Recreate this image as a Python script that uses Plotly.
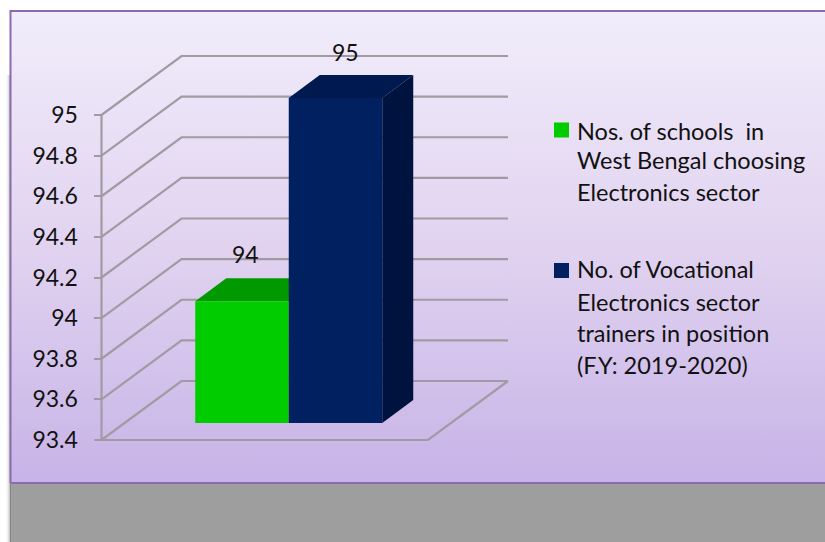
import plotly.graph_objects as go

# ---- data ----
SERIES_NAMES = [
    ["Nos. of schools  in", "West Bengal choosing", "Electronics sector"],
    ["No. of Vocational", "Electronics sector", "trainers in position", "(F.Y: 2019-2020)"],
]
SERIES_VALUES = [94, 95]
TICK_VALUES = [93.4, 93.6, 93.8, 94, 94.2, 94.4, 94.6, 94.8, 95]
TICK_LABELS = ["93.4", "93.6", "93.8", "94", "94.2", "94.4", "94.6", "94.8", "95"]

# ---- style / geometry ----
W, H = 825, 542
FONT = "Lato"
AXIS_MIN, AXIS_MAX = 93.4, 95
Y_LOW_PX, Y_HIGH_PX = 440, 115
SCALE = (Y_LOW_PX - Y_HIGH_PX) / (AXIS_MAX - AXIS_MIN)
AXIS_X = 101.5
WALL_DX, WALL_DY = 80, 59 / SCALE
WALL_RIGHT = 508
BAR_LIFT = 17 / SCALE
BAR_DX, BAR_DY = 31, 23 / SCALE
BAR_CENTERS = [242, 335.5]
BAR_WIDTH = 93.5
FRONT = ["#00cc00", "#002060"]
TOP = ["#009900", "#001a50"]
SIDE = ["#007700", "#00133f"]
GRID = "#a09ba3"
main_range = [AXIS_MIN - (H - Y_LOW_PX) / SCALE, AXIS_MIN + Y_LOW_PX / SCALE]
def v_of_px(py):
    return AXIS_MIN + (Y_LOW_PX - py) / SCALE

fig = go.Figure()

# panel with vertical gradient
fig.add_trace(go.Scatter(
    x=[10.5, 826, 826, 10.5, 10.5],
    y=[v_of_px(483), v_of_px(483), v_of_px(11), v_of_px(11), v_of_px(483)],
    mode="lines", fill="toself", line=dict(color="#8a6cae", width=2),
    fillgradient=dict(type="vertical",
                      colorscale=[[0, "#c7b3e7"], [0.5, "#e1d3f0"], [1, "#f1edfb"]]),
    hoverinfo="skip", showlegend=False))

# wall gridlines
for v in TICK_VALUES:
    fig.add_trace(go.Scatter(
        x=[AXIS_X, AXIS_X + WALL_DX, WALL_RIGHT],
        y=[v, v + WALL_DY, v + WALL_DY],
        mode="lines", line=dict(color=GRID, width=2.2), hoverinfo="skip", showlegend=False))
# floor front edge
fig.add_trace(go.Scatter(
    x=[AXIS_X, WALL_RIGHT - WALL_DX, WALL_RIGHT],
    y=[AXIS_MIN, AXIS_MIN, AXIS_MIN + WALL_DY],
    mode="lines", line=dict(color=GRID, width=2.2), hoverinfo="skip", showlegend=False))

# bar top and side faces derived from the values
for i, v in enumerate(SERIES_VALUES):
    l = BAR_CENTERS[i] - BAR_WIDTH / 2
    r = BAR_CENTERS[i] + BAR_WIDTH / 2
    front_top = v + BAR_LIFT
    front_base = AXIS_MIN + BAR_LIFT
    fig.add_trace(go.Scatter(
        x=[l, r, r + BAR_DX, l + BAR_DX, l],
        y=[front_top, front_top, front_top + BAR_DY, front_top + BAR_DY, front_top],
        mode="lines", fill="toself", fillcolor=TOP[i], line=dict(color=TOP[i], width=0),
        hoverinfo="skip", showlegend=False))
    fig.add_trace(go.Scatter(
        x=[r, r + BAR_DX, r + BAR_DX, r, r],
        y=[front_base, front_base + BAR_DY, front_top + BAR_DY, front_top, front_base],
        mode="lines", fill="toself", fillcolor=SIDE[i], line=dict(color=SIDE[i], width=0),
        hoverinfo="skip", showlegend=False))

# value axis carrier (overlay so that ticks sit above the panel)
fig.add_trace(go.Scatter(x=[AXIS_X], y=[AXIS_MIN], yaxis="y2", mode="markers",
                         marker=dict(opacity=0, size=1), hoverinfo="skip", showlegend=False))

# front faces
for i, v in enumerate(SERIES_VALUES):
    fig.add_trace(go.Bar(
        x=[BAR_CENTERS[i]], y=[v - AXIS_MIN], base=[AXIS_MIN], width=[BAR_WIDTH],
        marker=dict(color=FRONT[i], line=dict(width=0)), yaxis="y3",
        name=" ".join(SERIES_NAMES[i]), showlegend=False))

# legend swatches
LEG_SWATCH_X = 561.5
LEG_SWATCH_PY = [130, 270.5]
LEG_TEXT_X = 575
LEG_LINE_PY = [[131, 160, 192], [269, 302, 333, 365]]
annotations = []
for i in range(2):
    fig.add_trace(go.Scatter(
        x=[LEG_SWATCH_X], y=[v_of_px(LEG_SWATCH_PY[i])], mode="markers",
        marker=dict(symbol="square", size=15, color=FRONT[i], line=dict(width=0)),
        hoverinfo="skip", showlegend=False))
    for text, py in zip(SERIES_NAMES[i], LEG_LINE_PY[i]):
        annotations.append(dict(
            x=LEG_TEXT_X, y=v_of_px(py), xref="x", yref="y", text=text, showarrow=False,
            xanchor="left", yanchor="middle", font=dict(family=FONT, size=23.5, color="#111111")))

# data labels
LABEL_X = [245.5, 345]
LABEL_SHIFT = [47, 46]
for i, v in enumerate(SERIES_VALUES):
    annotations.append(dict(
        x=LABEL_X[i], y=v, xref="x", yref="y3", text=str(v), showarrow=False, yshift=LABEL_SHIFT[i],
        xanchor="center", yanchor="middle", font=dict(family=FONT, size=23, color="#111111")))

shapes = [
    dict(type="rect", xref="x", yref="y", layer="below", x0=10, x1=826,
         y0=main_range[0], y1=v_of_px(483), fillcolor="#9e9e9e", line=dict(width=0)),
    dict(type="line", xref="x", yref="y", layer="above", x0=AXIS_X, x1=AXIS_X,
         y0=AXIS_MIN, y1=AXIS_MAX, line=dict(color=GRID, width=2.2)),
]
for k, alpha in enumerate([0.03, 0.06, 0.1, 0.16]):
    shapes.append(dict(type="rect", xref="x", yref="y", layer="below", x0=6 + k, x1=11,
                       y0=main_range[0], y1=v_of_px(75), fillcolor=f"rgba(90,90,90,{alpha})",
                       line=dict(width=0)))

fig.update_layout(
    width=W, height=H, autosize=False, margin=dict(l=0, r=0, t=0, b=0, pad=0),
    paper_bgcolor="white", plot_bgcolor="rgba(0,0,0,0)", showlegend=False, barmode="overlay",
    hovermode=False, shapes=shapes, annotations=annotations,
    xaxis=dict(range=[0, W], visible=False, domain=[0, 1], fixedrange=True),
    yaxis=dict(range=main_range, visible=False, domain=[0, 1], fixedrange=True),
    yaxis2=dict(
        range=main_range, overlaying="y", anchor="free", position=AXIS_X / W,
        domain=[0, 1], fixedrange=True,
        tickmode="array", tickvals=TICK_VALUES, ticktext=TICK_LABELS,
        ticks="outside", ticklen=8, tickwidth=2, tickcolor=GRID, ticklabelstandoff=11,
        showline=False, showgrid=False, zeroline=False,
        tickfont=dict(family=FONT, size=23, color="#111111")),
    yaxis3=dict(range=[main_range[0] - BAR_LIFT, main_range[1] - BAR_LIFT], overlaying="y",
                visible=False, domain=[0, 1], fixedrange=True),
)
fig.write_html("out.html", post_script="document.body.style.margin='0';",
               config=dict(displayModeBar=False))
